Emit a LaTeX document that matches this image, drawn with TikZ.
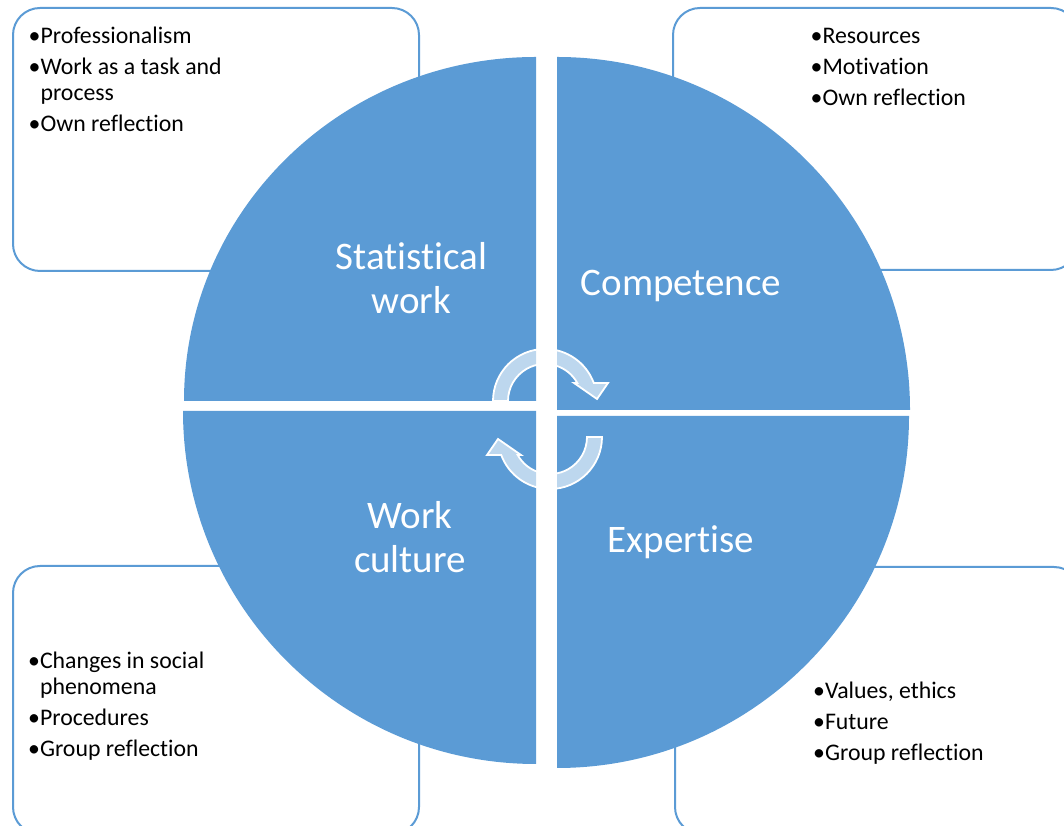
\documentclass[tikz,border=0pt]{standalone}
\usepackage{fontspec}
\setmainfont{Carlito}[Ligatures=NoCommon]
\definecolor{quadblue}{HTML}{5B9BD5}

\begin{document}
\begin{tikzpicture}[x=1pt, y=1pt,
	infobox/.style={draw=quadblue, line width=2pt, rounded corners=27pt, fill=white, inner sep=0pt},
	quad/.style={fill=quadblue},
	cyclearrow/.style={draw=white, line width=1.8pt, fill=white, fill opacity=0.6},
	bullets/.style={anchor=north west, inner sep=0pt, align=left, font=\fontsize{23.8}{26.5}\selectfont},
	title/.style={text=white, inner sep=0pt, align=center, font=\fontsize{39}{44}\selectfont}]
		\clip (0,0) rectangle (1064,826);
		\node[infobox, minimum width=406pt, minimum height=263pt] (tlbox) at (216,686.5) {};
		\node[infobox, minimum width=405pt, minimum height=262pt] (trbox) at (875.5,687) {};
		\node[infobox, minimum width=406pt, minimum height=268pt] (blbox) at (216,126) {};
		\node[infobox, minimum width=406pt, minimum height=267pt] (brbox) at (878,125.5) {};
		\fill[quad] (536,425) -- (184,425) arc[start angle=180, end angle=90, x radius=352, y radius=344] -- cycle;
		\fill[quad] (557,416) -- (557,769) arc[start angle=90, end angle=0, radius=353] -- cycle;
		\fill[quad] (536,415) -- (183,415) arc[start angle=180, end angle=270, radius=353] -- cycle;
		\fill[quad] (557,410) -- (557,58) arc[start angle=270, end angle=360, radius=352] -- cycle;
		\begin{scope}[shift={(545,425)}]
			\filldraw[cyclearrow] (180:52) arc[start angle=180, end angle=20.3, radius=52] -- (63,18) -- (52,2) -- (29,18) -- (29.1:37) arc[start angle=29.1, end angle=180, radius=37] -- cycle;
		\end{scope}
		\begin{scope}[shift={(550,389)}, rotate=180]
			\filldraw[cyclearrow] (180:52) arc[start angle=180, end angle=20.3, radius=52] -- (63,18) -- (52,2) -- (29,18) -- (29.1:37) arc[start angle=29.1, end angle=180, radius=37] -- cycle;
		\end{scope}
		\node[bullets] (tlitems) at (28.5,803) {\rule{0pt}{20pt}•Professionalism\\[4.5pt]•Work as a task and\\\phantom{•}process\\[4.5pt]•Own reflection};
		\node[bullets] (tritems) at (810.5,803) {\rule{0pt}{20pt}•Resources\\[4.5pt]•Motivation\\[4.5pt]•Own reflection};
		\node[bullets] (blitems) at (28,178) {\rule{0pt}{20pt}•Changes in social\\\phantom{•}phenomena\\[4.5pt]•Procedures\\[4.5pt]•Group reflection};
		\node[bullets] (britems) at (813,148) {\rule{0pt}{20pt}•Values, ethics\\[4.5pt]•Future\\[4.5pt]•Group reflection};
		\node[title, anchor=north] (statwork) at (411.5,589) {\rule{0pt}{32pt}Statistical\\work};
		\node[title, anchor=base] (competence) at (681,530) {Competence};
		\node[title, anchor=north] (workculture) at (410,330) {\rule{0pt}{32pt}Work\\culture};
		\node[title, anchor=base] (expertise) at (681,273) {Expertise};
	\end{tikzpicture}
\end{document}
